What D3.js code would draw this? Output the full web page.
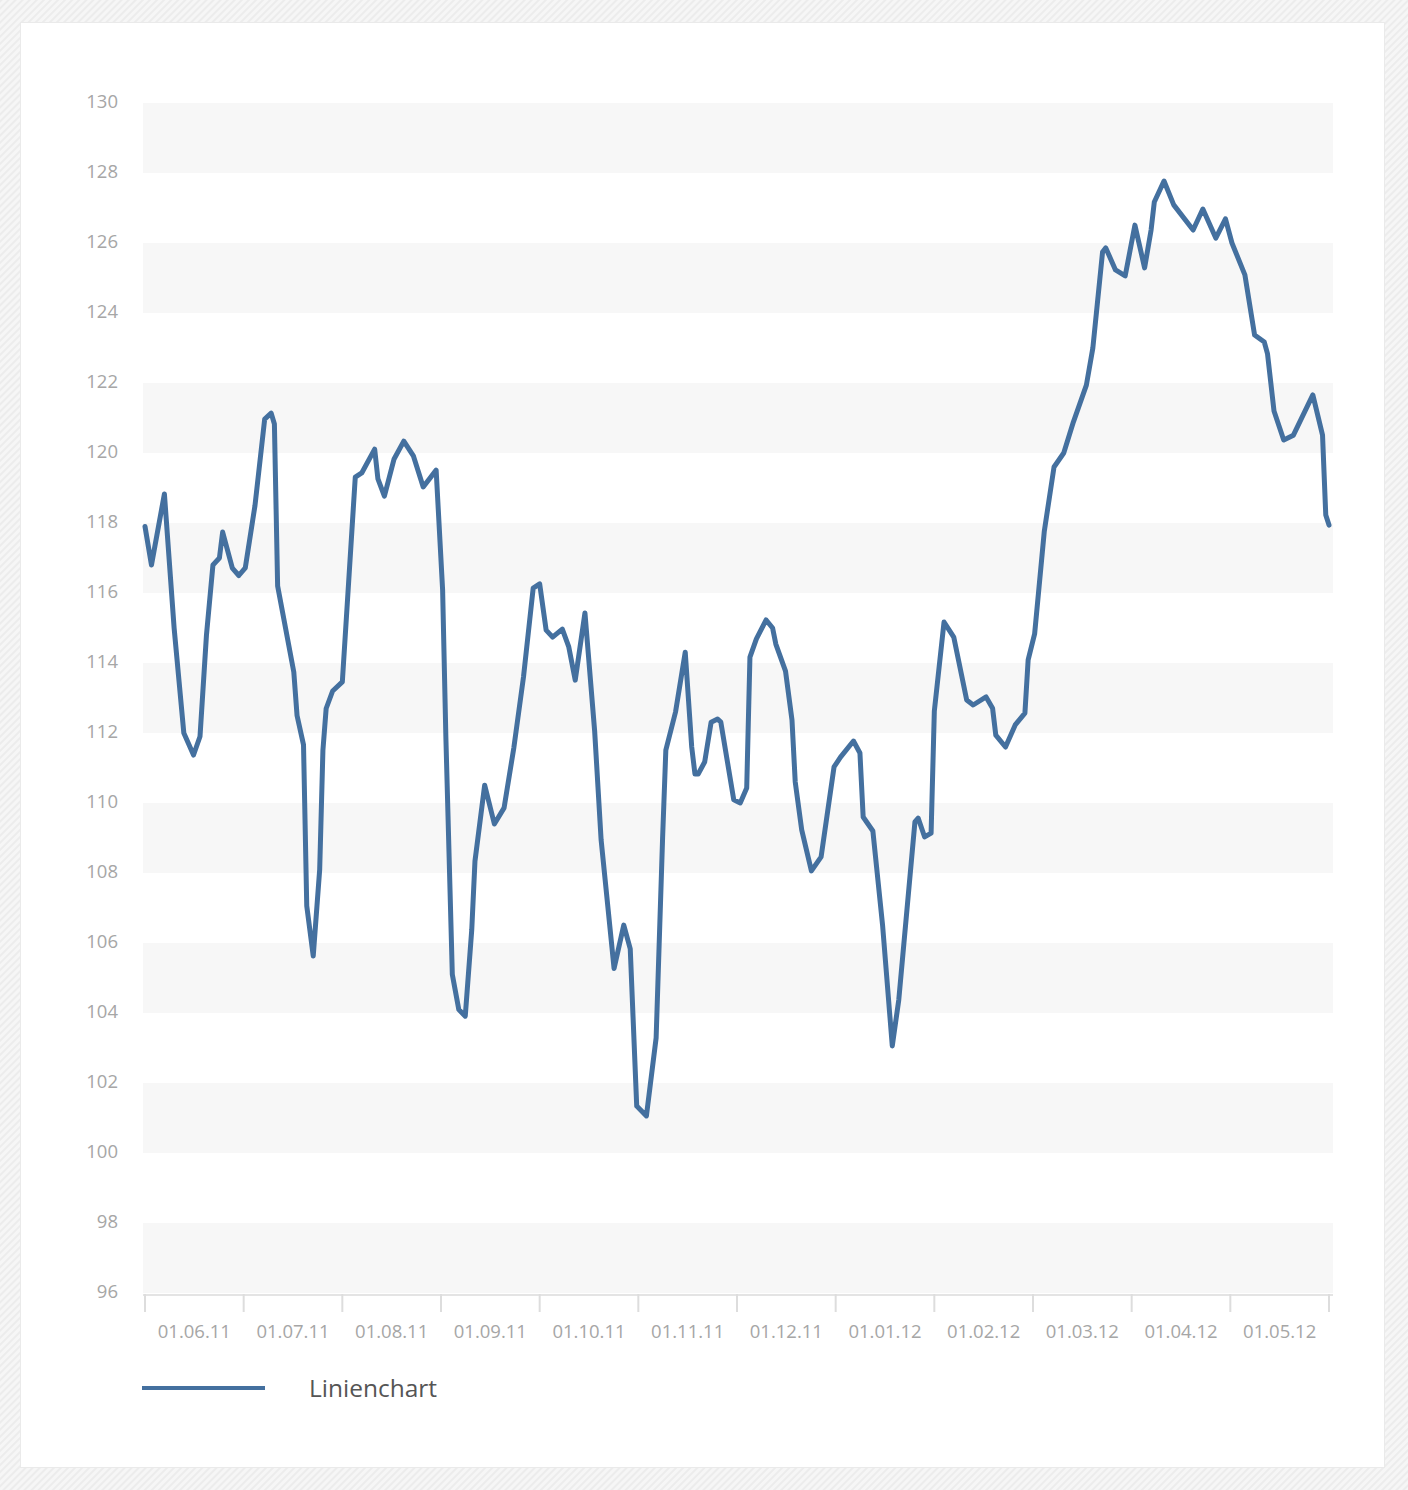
<!DOCTYPE html>
<html>
<head>
<meta charset="utf-8">
<script src="https://cdn.jsdelivr.net/npm/d3@7"></script>
<style>
  html, body { margin: 0; padding: 0; }
  body { width: 1408px; height: 1490px; overflow: hidden; }
</style>
</head>
<body>
<svg id="chart" width="1408" height="1490"></svg>
<script>
// ---- data ----
const startDate = new Date(2011, 4, 16);   // first day of the plotted period
const endDate = new Date(2012, 4, 16);
const dayOffsets = [0,2,6,9,12,15,17,19,21,23,24,27,29,31,34,37,39,40,41,46,47,49,50,52,54,55,56,58,61,65,67,71,72,74,77,80,83,86,90,92,93,95,97,99,101,102,105,108,111,114,117,120,122,124,126,129,131,133,136,139,141,145,148,150,152,155,158,160,161,164,167,169,170,171,173,175,177,178,182,184,186,187,189,192,194,195,198,200,201,203,206,209,213,215,219,221,222,225,228,231,233,238,239,241,243,244,247,250,254,256,260,262,263,266,269,272,273,275,278,281,284,287,291,293,296,297,300,303,306,309,311,312,315,318,324,327,331,334,336,340,343,346,347,349,352,355,361,364,365,366];
const values = [117.9,116.8,118.83,115.0,112.0,111.37,111.9,114.8,116.8,117.0,117.74,116.71,116.5,116.72,118.5,120.97,121.14,120.83,116.2,113.74,112.5,111.66,107.06,105.63,108.1,111.51,112.7,113.2,113.46,119.31,119.43,120.11,119.26,118.77,119.83,120.34,119.91,119.03,119.51,116.09,111.9,105.1,104.1,103.91,106.37,108.34,110.51,109.4,109.86,111.57,113.6,116.14,116.26,114.94,114.74,114.97,114.46,113.51,115.43,112.05,108.94,105.27,106.51,105.83,101.34,101.06,103.29,109.0,111.51,112.6,114.31,111.6,110.83,110.83,111.17,112.31,112.4,112.31,110.09,110.0,110.43,114.17,114.69,115.23,115.0,114.54,113.77,112.37,110.6,109.23,108.06,108.46,111.03,111.31,111.77,111.43,109.6,109.2,106.51,103.06,104.37,109.46,109.57,109.03,109.14,112.63,115.17,114.74,112.94,112.8,113.03,112.71,111.94,111.6,112.23,112.57,114.09,114.83,117.77,119.6,120.0,120.89,121.94,123.0,125.74,125.86,125.23,125.06,126.51,125.29,126.37,127.17,127.77,127.09,126.37,126.97,126.14,126.69,126.0,125.09,123.37,123.17,122.83,121.2,120.37,120.51,121.66,120.51,118.23,117.94];
const monthLabels = ["01.06.11","01.07.11","01.08.11","01.09.11","01.10.11","01.11.11","01.12.11","01.01.12","01.02.12","01.03.12","01.04.12","01.05.12"];
const yTicks = [96,98,100,102,104,106,108,110,112,114,116,118,120,122,124,126,128,130];
const seriesName = "Linienchart";

// ---- layout ----
const W = 1408, H = 1490;
const plot = { left: 143, right: 1333, top: 103, bottom: 1293 };
const lineColor = "#44709f";
const font = "'Open Sans', 'Noto Sans', sans-serif";

const svg = d3.select("#chart");

// background pattern
const defs = svg.append("defs");
const pat = defs.append("pattern")
  .attr("id", "hatch").attr("patternUnits", "userSpaceOnUse")
  .attr("width", 5).attr("height", 5)
  .attr("patternTransform", "rotate(45)");
pat.append("rect").attr("width", 5).attr("height", 5).attr("fill", "#f6f6f6");
pat.append("rect").attr("width", 2).attr("height", 5).attr("fill", "#ececec");

svg.append("rect").attr("width", W).attr("height", H).attr("fill", "url(#hatch)");
svg.append("rect").attr("x", 20.5).attr("y", 22.5).attr("width", 1364).attr("height", 1445)
  .attr("fill", "#ffffff").attr("stroke", "#eaeaea").attr("stroke-width", 1);

// scales
const x = d3.scaleTime().domain([startDate, endDate]).range([145, 1329]);
const y = d3.scaleLinear().domain([96, 130]).range([plot.bottom, plot.top]);
const xBand = d3.scaleBand().domain(monthLabels).range([145, 1329]).paddingInner(0).paddingOuter(0);

// alternating bands
const bandStarts = yTicks.filter(t => t < 130 && ((t - 96) % 4 === 0));
svg.append("g").selectAll("rect").data(bandStarts).join("rect")
  .attr("x", plot.left).attr("width", plot.right - plot.left)
  .attr("y", d => y(d + 2)).attr("height", d => y(d) - y(d + 2))
  .attr("fill", "#f7f7f7");

// y axis labels
const yAxis = d3.axisLeft(y).tickValues(yTicks).tickSize(0).tickPadding(0).tickFormat(d3.format("d"));
const gy = svg.append("g").attr("transform", "translate(118,-1)").call(yAxis);
gy.select(".domain").remove();
gy.selectAll("text").attr("fill", "#a6a6a6").style("font-family", font).style("font-size", "18.5px");

// x axis baseline and ticks
svg.append("line").attr("x1", plot.left).attr("x2", plot.right)
  .attr("y1", 1295).attr("y2", 1295).attr("stroke", "#e4e4e4").attr("stroke-width", 2);
const tickPos = monthLabels.map(m => xBand(m)).concat([xBand.range()[1]]);
svg.append("g").selectAll("line").data(tickPos).join("line")
  .attr("x1", d => d).attr("x2", d => d).attr("y1", 1294).attr("y2", 1312)
  .attr("stroke", "#dddddd").attr("stroke-width", 2);

// x labels centred in each month slot
const xAxis = d3.axisBottom(xBand).tickSize(0).tickPadding(0);
const gx = svg.append("g").attr("transform", "translate(0,1325)").call(xAxis);
gx.select(".domain").remove();
gx.selectAll("text").attr("fill", "#a6a6a6").style("font-family", font).style("font-size", "18.5px");

// line
const data = dayOffsets.map((d, i) => ({ date: d3.timeDay.offset(startDate, d), value: values[i] }));
const line = d3.line().x(d => x(d.date)).y(d => y(d.value));
svg.append("path").datum(data)
  .attr("d", line).attr("fill", "none")
  .attr("stroke", lineColor).attr("stroke-width", 5)
  .attr("stroke-linejoin", "round").attr("stroke-linecap", "round");

// legend
const lg = svg.append("g").attr("transform", "translate(142,1388)");
lg.append("line").attr("x1", 0).attr("x2", 123).attr("y1", 0).attr("y2", 0)
  .attr("stroke", lineColor).attr("stroke-width", 4);
lg.append("text").attr("x", 167).attr("y", 0).attr("dy", "0.35em")
  .attr("fill", "#555555").style("font-family", font).style("font-size", "24.5px")
  .text(seriesName);
</script>
</body>
</html>
